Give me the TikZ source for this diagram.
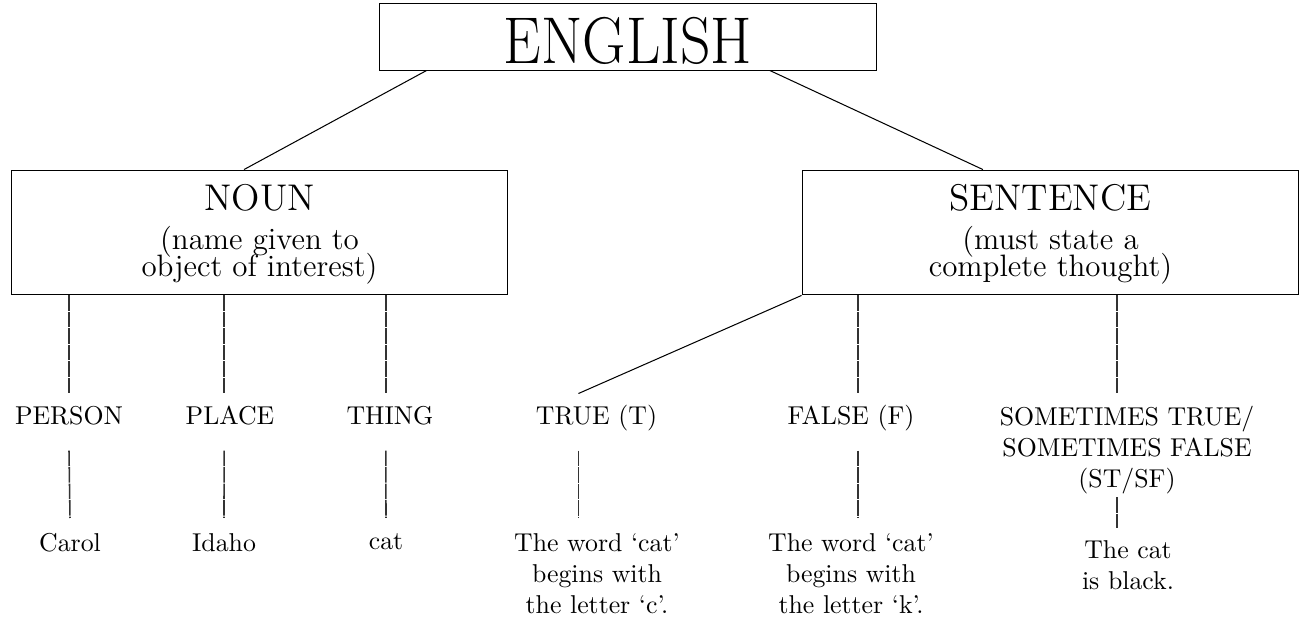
\documentclass[tikz,border=0pt]{standalone}
\usepackage{tikz}

\tikzset{
    box/.style={draw, line width=0.4pt, inner sep=0pt, align=center,
        minimum width=192.6pt, minimum height=48.4pt, font=\large},
    lbl/.style={inner xsep=2pt, inner ysep=0pt, text height=12pt, text depth=9.7pt, anchor=base},
    ex/.style={align=center, inner xsep=2pt, inner ysep=5.8pt, anchor=north},
    bar/.style={line width=0.6pt, black!80, dash pattern=on 6pt off 0.4pt},
    link/.style={line width=0.4pt}
}

\begin{document}
\begin{tikzpicture}[x=0.3876pt, y=-0.3876pt]
    \useasboundingbox (0,0) rectangle (1301,621);

    %% top
    \node[draw, inner sep=0pt, minimum width=193pt, minimum height=25.6pt,
          text height=21pt, font=\Huge] (english) at (628,37) {\scalebox{0.93}[1.03]{ENGLISH}};

    %% the two boxes
    \node[box] (noun) at (259.5,232.5)
        {{\Large\rule{0pt}{11.7pt}NOUN}\\[1.2pt](name given to\\[-3.6pt]object of interest)};
    \node[box] (sentence) at (1050.5,232.5)
        {{\Large\rule{0pt}{11.7pt}SENTENCE}\\[1.2pt](must state a\\[-3.6pt]complete thought)};

    \draw[link] ([xshift=18.6pt]english.south west) -- ([xshift=-6pt]noun.north);
    \draw[link] ([xshift=55pt]english.south) -- ([xshift=-26.2pt]sentence.north);

    %% kinds of noun
    \node[lbl] (person) at (69,425) {PERSON};
    \node[lbl] (place) at (230,425) {PLACE};
    \node[lbl] (thing) at (390,425) {THING};

    \node[ex] (carol) at (70,518) {Carol};
    \node[ex] (idaho) at (224,518) {Idaho};
    \node[ex] (catex) at (386,518) {cat};

    \draw[bar] (person.north |- noun.south) -- (person.north);
    \draw[bar] ([xshift=-2.3pt]place.north |- noun.south) -- ([xshift=-2.3pt]place.north);
    \draw[bar] ([xshift=-1.6pt]thing.north |- noun.south) -- ([xshift=-1.6pt]thing.north);

    \draw[bar] (person.south) -- (carol.north);
    \draw[bar] ([xshift=-2.3pt]place.south) -- (idaho.north);
    \draw[bar] ([xshift=-1.6pt]thing.south) -- (catex.north);

    %% kinds of sentence
    \node[lbl] (true) at (596.5,425) {TRUE (T)};
    \node[lbl] (false) at (851,425) {FALSE (F)};
    \node[align=center, inner xsep=2pt, inner ysep=4.4pt, anchor=north] (st) at (1127,394)
        {SOMETIMES TRUE/\\SOMETIMES FALSE\\(ST/SF)};

    \node[ex] (truex) at (597,518) {The word `cat'\\begins with\\the letter `c'.};
    \node[ex] (falsex) at (851,518) {The word `cat'\\begins with\\the letter `k'.};
    \node[ex, inner ysep=4.6pt] (stex) at (1128,528) {The cat\\is black.};

    \draw[link] (sentence.south west) -- ([xshift=-7pt]true.north);
    \draw[bar] ([xshift=2.7pt]false.north |- sentence.south) -- ([xshift=2.7pt]false.north);
    \draw[bar] ([xshift=-3.9pt]st.north |- sentence.south) -- ([xshift=-3.9pt]st.north);

    \draw[bar] ([xshift=-7pt]true.south) -- ([xshift=-7pt]true.south |- truex.north);
    \draw[bar] ([xshift=2.7pt]false.south) -- ([xshift=2.7pt]false.south |- falsex.north);
    \draw[bar] ([xshift=-3.9pt,yshift=3.1pt]st.south) -- ([xshift=-3.9pt]st.south |- stex.north);
\end{tikzpicture}
\end{document}
